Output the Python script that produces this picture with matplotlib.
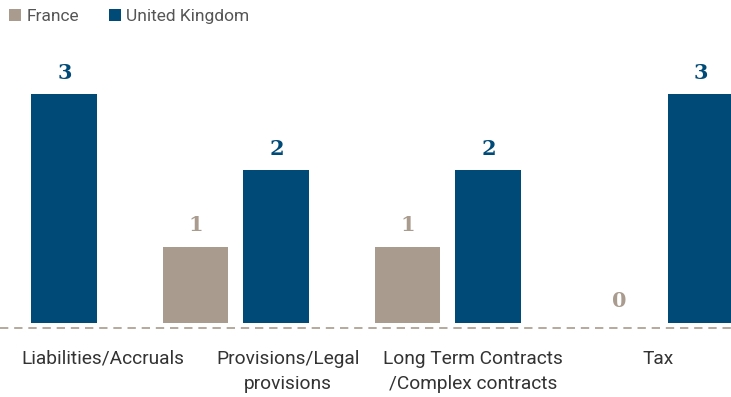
import numpy as np
import matplotlib.pyplot as plt

categories = ['Liabilities/Accruals', 'Provisions/Legal\nprovisions',
              'Long Term Contracts\n/Complex contracts', 'Tax']
france = [0, 1, 1, 0]
uk = [3, 2, 2, 3]

c_fr = '#a99b8e'
c_uk = '#004a77'

plt.rcParams['font.family'] = ['Roboto', 'DejaVu Sans']

fig = plt.figure(figsize=(7.31, 3.97), dpi=100)
ax = fig.add_axes([0, 57/397, 1, 300/397])

x = np.arange(len(categories))
w = 0.311
off = 0.191

b1 = ax.bar(x - off, france, w, color=c_fr, label='France')
b2 = ax.bar(x + off, uk, w, color=c_uk, label='United Kingdom')

# value labels above each bar
for bars, vals, col in [(b1, france, c_fr), (b2, uk, c_uk)]:
    for r, v in zip(bars, vals):
        ax.annotate(str(v), (r.get_x() + r.get_width()/2, v),
                    xytext=(0, 15.3), textcoords='offset points',
                    ha='center', va='center', color=col,
                    fontsize=15, fontweight='bold', family='DejaVu Serif')

ax.axhline(-0.07, color=c_fr, lw=1.2, ls=(0, (5, 3.5)))

ax.set_xlim(-0.113, 3.335)
ax.set_ylim(-0.227, 3.71)

# category labels sit on their own evenly spaced slots
ax.set_xticks(0.373 + 0.873*x)
ax.set_xticklabels(categories, fontsize=13.8, color='#333333', linespacing=1.5)
ax.tick_params(axis='x', length=0, pad=7)
ax.set_yticks([])
for s in ax.spines.values():
    s.set_visible(False)

fig.legend(handles=[b1, b2], loc='upper left', bbox_to_anchor=(0.012, 0.978),
           ncol=2, frameon=False, fontsize=12.5, handlelength=0.72,
           handleheight=0.72, handletextpad=0.3, columnspacing=1.7,
           borderpad=0, borderaxespad=0, labelcolor='#555555')

fig.savefig('out.png', dpi=100)
